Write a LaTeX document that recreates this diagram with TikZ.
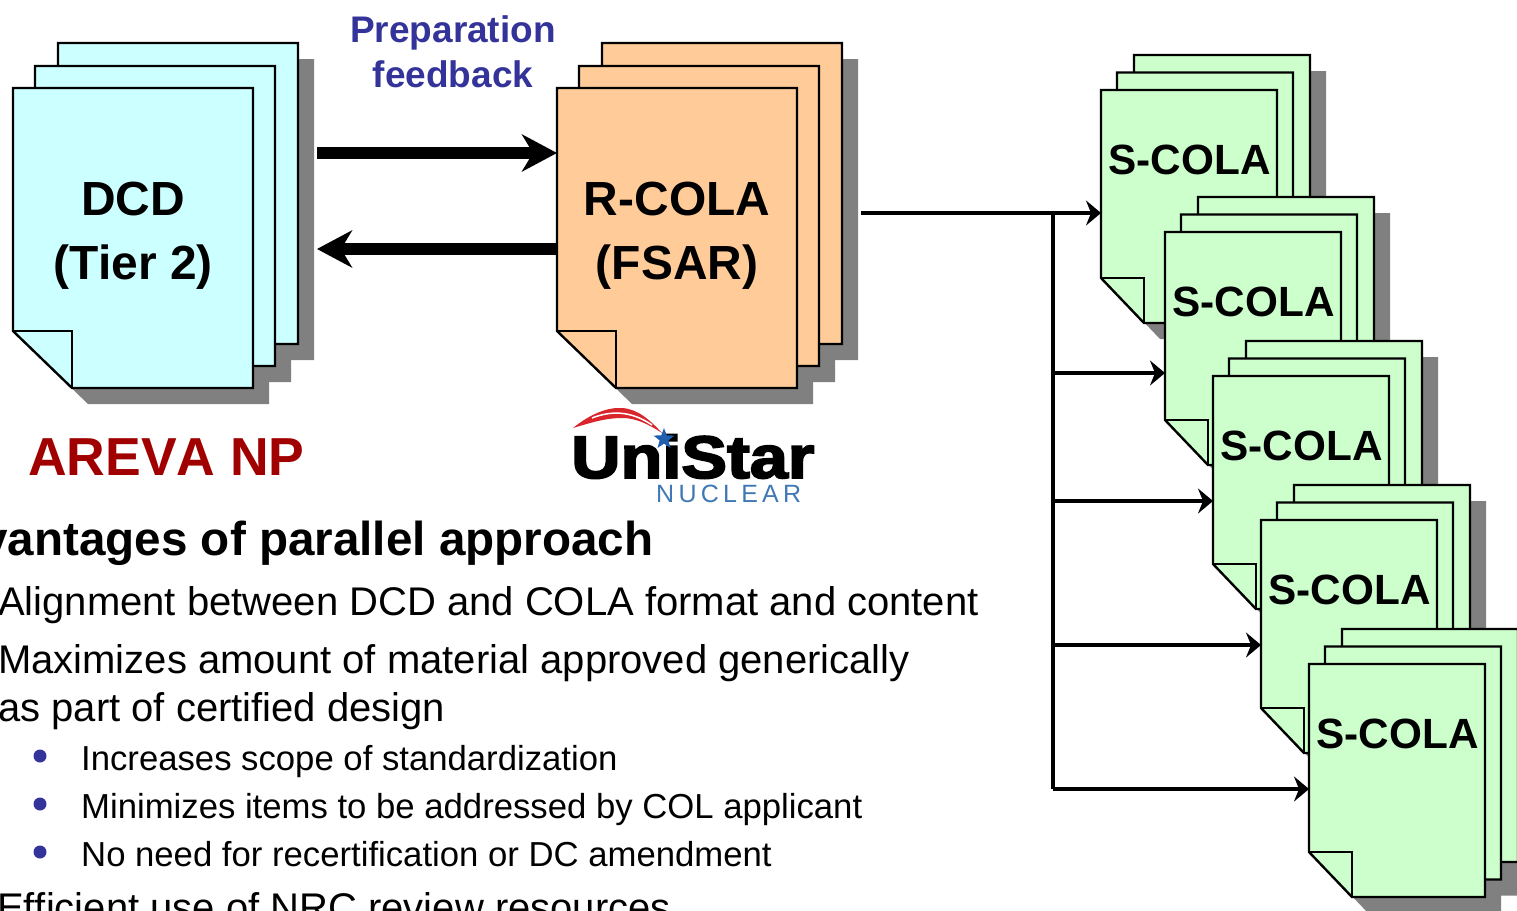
\documentclass[tikz,border=0pt]{standalone}
\usepackage{fontspec}
\usetikzlibrary{arrows.meta,shapes.geometric}
\setmainfont[Kerning=Off]{Liberation Sans}
\newfontfamily\logofont[BoldFeatures={FakeBold=3}]{Liberation Sans}
\newfontfamily\nucfont[LetterSpace=17]{Liberation Sans}
\definecolor{shadowgray}{HTML}{808080}
\definecolor{dcdfill}{HTML}{CCFFFF}
\definecolor{colafill}{HTML}{FFCC99}
\definecolor{sfill}{HTML}{CCFFCC}
\definecolor{navy}{HTML}{333399}
\definecolor{areva}{HTML}{A00000}
\definecolor{logored}{HTML}{D8262C}
\definecolor{logoblue}{HTML}{1F5FAE}
\definecolor{nucblue}{HTML}{3F78B4}
\tikzset{
  pageline/.style={draw=black,line width=2.4pt,line join=miter},
  pageref/.style={draw=none,inner sep=0pt,outer sep=0pt},
  foldline/.style={draw=black,line width=2pt},
  bigarrow/.style={line width=12pt,-{Stealth[length=35pt,width=37pt,inset=11pt]}},
  thinarrow/.style={line width=4.8pt,-{Stealth[length=15pt,width=25pt,inset=5pt]}},
  bigtitle/.style={inner sep=0pt,anchor=base,font=\fontsize{47.9}{57}\selectfont\bfseries},
  stitle/.style={inner sep=0pt,anchor=base,font=\fontsize{42.3}{50}\selectfont\bfseries},
  feedback/.style={inner sep=0pt,anchor=base,text=navy,font=\fontsize{37}{44}\selectfont\bfseries},
  heading/.style={inner sep=0pt,anchor=base east,font=\fontsize{47.6}{56}\selectfont\bfseries},
  bodytext/.style={inner sep=0pt,anchor=base west,font=\fontsize{40}{48}\selectfont},
  subtext/.style={inner sep=0pt,anchor=base west,font=\fontsize{34.7}{42}\selectfont},
  bulletdot/.style={circle,fill=navy,inner sep=0pt,minimum size=13pt}
}
% x y w h foldx foldy : sheet outline with its cut corner
\newcommand{\sheetpath}[6]{(#1,#2) -- ++(#3,0) -- ++(0,#4) -- ++(-#3+#5,0) -- ++(-#5,-#6) -- cycle}
\newcommand{\bigstack}[3]{%
  \fill[shadowgray] \sheetpath{#2+45+16}{43+16}{240}{301}{59}{57};
  \fill[shadowgray] \sheetpath{#2+22+16}{66+16}{240}{300}{59}{57};
  \fill[shadowgray] \sheetpath{#2+16}{88+16}{240}{300}{59}{57};
  \path[pageline,fill=#3] \sheetpath{#2+45}{43}{240}{301}{59}{57};
  \path[pageline,fill=#3] \sheetpath{#2+22}{66}{240}{300}{59}{57};
  \path[pageline,fill=#3] \sheetpath{#2}{88}{240}{300}{59}{57};
  \path[foldline] (#2,331) -- ++(59,0) -- ++(0,57);
  \node[pageref,minimum width=240pt,minimum height=300pt] (#1) at (#2+120,238) {};}
\newcommand{\smallstack}[3]{%
  \fill[shadowgray] \sheetpath{#2+33+16}{#3-35+16}{176}{233}{43}{45};
  \fill[shadowgray] \sheetpath{#2+16+16}{#3-17.5+16}{176}{233}{43}{45};
  \fill[shadowgray] \sheetpath{#2+16}{#3+16}{176}{233}{43}{45};
  \path[pageline,fill=sfill] \sheetpath{#2+33}{#3-35}{176}{233}{43}{45};
  \path[pageline,fill=sfill] \sheetpath{#2+16}{#3-17.5}{176}{233}{43}{45};
  \path[pageline,fill=sfill] \sheetpath{#2}{#3}{176}{233}{43}{45};
  \path[foldline] (#2,#3+188) -- ++(43,0) -- ++(0,45);
  \node[pageref,minimum width=176pt,minimum height=233pt] (#1) at (#2+88,#3+116.5) {};
  \node[stitle] (#1t) at (#2+88.5,#3+84) {S-COLA};}
\begin{document}
\begin{tikzpicture}[x=1pt,y=-1pt]
\useasboundingbox (0,0) rectangle (1517,910);
\clip (0,0) rectangle (1517,910);
\bigstack{dcd}{13}{dcdfill}
\bigstack{rcola}{557}{colafill}
\node[bigtitle] (dcdt1) at (133,215) {DCD};
\node[bigtitle] (dcdt2) at (133,279) {(Tier 2)};
\node[bigtitle] (rcolat1) at (677,215) {R-COLA};
\node[bigtitle] (rcolat2) at (677,279) {(FSAR)};
\node[feedback] (fb1) at (453,42) {Preparation};
\node[feedback] (fb2) at (453,87) {feedback};
\coordinate (fwdstart) at (317,153);
\coordinate (backy) at (557,249);
\coordinate (dcdgap) at (317,249);
\draw[bigarrow] (fwdstart) -- (fwdstart -| rcola.west);
\draw[bigarrow] (backy) -- (dcdgap);
\smallstack{sa}{1101}{90}
\smallstack{sb}{1165}{232}
\smallstack{sc}{1213}{376}
\smallstack{sd}{1261}{520}
\smallstack{se}{1309}{664}
\coordinate (rout) at (861,213);
\coordinate (bus) at (1053,213);
\coordinate (busb) at (1053,373);
\coordinate (busc) at (1053,501);
\coordinate (busd) at (1053,645);
\coordinate (buse) at (1053,789);
\draw[line width=4.8pt] (bus) -- (buse);
\draw[thinarrow] (rout) -- (rout -| sa.west);
\draw[thinarrow] (busb) -- (busb -| sb.west);
\draw[thinarrow] (busc) -- (busc -| sc.west);
\draw[thinarrow] (busd) -- (busd -| sd.west);
\draw[thinarrow] (buse) -- (buse -| se.west);
\node[inner sep=0pt,anchor=base west,text=areva,font=\fontsize{53.5}{60}\selectfont\bfseries] (areva) at (28,475) {AREVA NP};
% logo
\node[inner sep=0pt,anchor=base west,xscale=1.14,font=\fontsize{60}{66}\selectfont\logofont\bfseries] (unistar) at (571,478) {UniStar};
\fill[logored] (573,428) .. controls (590,414) and (608,407) .. (622,408) .. controls (638,409) and (650,420) .. (662,433) .. controls (648,424) and (636,418) .. (622,418) .. controls (605,418) and (590,423) .. (573,428) -- cycle;
\draw[white,line width=1.5pt] (592,418) .. controls (610,411) and (630,410) .. (652,425);
\node[star,star points=5,star point ratio=2.4,fill=logoblue,inner sep=0pt,minimum size=22pt] (logostar) at (664,439) {};
\node[inner sep=0pt,anchor=base west,text=nucblue,font=\fontsize{25}{28}\selectfont\nucfont] (nuclear) at (656,502) {NUCLEAR};
% text
\node[heading] (head) at (653.5,555) {Advantages of parallel approach};
\node[bodytext] (b1) at (-2,615) {Alignment between DCD and COLA format and content};
\node[bodytext] (b2) at (-2,673) {Maximizes amount of material approved generically};
\node[bodytext] (b3) at (-2,721) {as part of certified design};
\node[bulletdot] (d1) at (40,756) {};
\node[bulletdot] (d2) at (40,804) {};
\node[bulletdot] (d3) at (40,852) {};
\node[subtext] (s1) at (81,770) {Increases scope of standardization};
\node[subtext] (s2) at (81,818) {Minimizes items to be addressed by COL applicant};
\node[subtext] (s3) at (81,866) {No need for recertification or DC amendment};
\node[bodytext] (b4) at (-3,921) {Efficient use of NRC review resources};
\end{tikzpicture}
\end{document}
